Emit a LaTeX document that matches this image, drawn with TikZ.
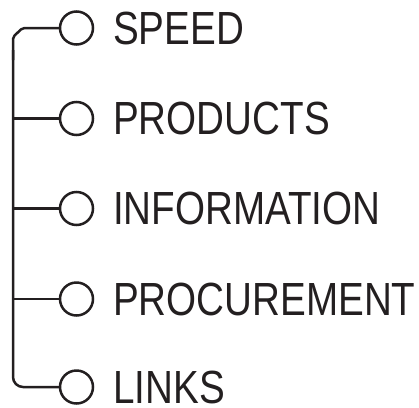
\documentclass[tikz,border=0pt]{standalone}
\usepackage{fontspec}
\setmainfont{Liberation Sans}[FakeStretch=0.83]
\definecolor{ink}{HTML}{231F20}
\begin{document}
\begin{tikzpicture}[x=1pt,y=-1pt,
  bullet/.style={circle,draw=ink,line width=2.5pt,minimum size=33pt,inner sep=0pt},
  label/.style={anchor=base west,inner sep=0pt,text=ink,font=\fontsize{46.5}{46.5}\selectfont},
  wire/.style={draw=ink,line width=2.5pt}]
\useasboundingbox (0,0) rectangle (419,407);
\foreach \i/\y/\t in {1/28/SPEED,2/118.5/PRODUCTS,3/208.5/INFORMATION,4/299/PROCUREMENT,5/387/LINKS}{
  \node[bullet] (c\i) at (76.5,\y) {};
  \node[label] (t\i) at (113,\y+16) {\t};
  \coordinate (j\i) at (13,\y);
}
\coordinate (k1) at (22.5,28);
\coordinate (k2) at (13,37);
\draw[wire,rounded corners=2pt] (c1.west) -- (k1) -- (k2) -- (13,60);
\draw[wire,rounded corners=10pt] (13,50) -- (j5) -- (c5.west);
\foreach \i in {2,3,4}{\draw[wire] (j\i) -- (c\i.west);}
\end{tikzpicture}
\end{document}
